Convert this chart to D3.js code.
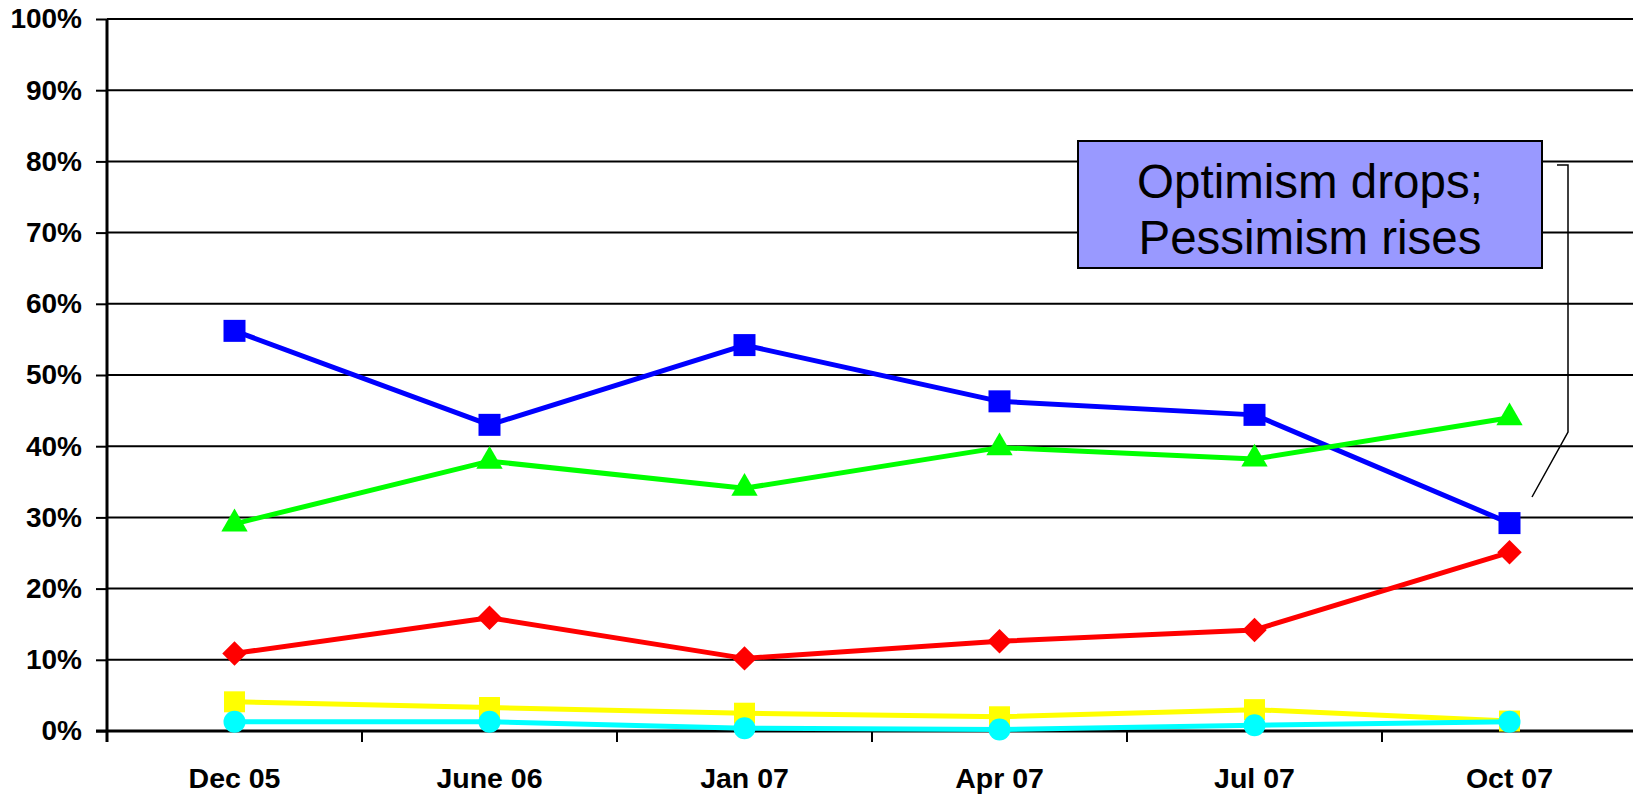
<!DOCTYPE html>
<html>
<head>
<meta charset="utf-8">
<script src="https://cdn.jsdelivr.net/npm/d3@7"></script>
<style>
  html, body { margin: 0; padding: 0; background: #fff; }
  svg { display: block; font-family: "Liberation Sans", Arial, sans-serif; }
</style>
</head>
<body>
<svg id="chart" width="1633" height="795"></svg>
<script>
// categories and series values (percent)
const categories = ["Dec 05", "June 06", "Jan 07", "Apr 07", "Jul 07", "Oct 07"];
const blueValues   = [56.2, 43.0, 54.2, 46.3, 44.4, 29.2];
const greenValues  = [29.1, 37.9, 34.1, 39.8, 38.2, 44.0];
const redValues    = [10.9, 15.9, 10.2, 12.6, 14.2, 25.1];
const yellowValues = [4.1, 3.3, 2.5, 2.0, 3.0, 1.4];
const cyanValues   = [1.3, 1.3, 0.4, 0.2, 0.8, 1.3];
const yTicks = [0, 10, 20, 30, 40, 50, 60, 70, 80, 90, 100];
const noteLines = ["Optimism drops;", "Pessimism rises"];

const config = {
  width: 1633, height: 795,
  margin: {top: 19, left: 107},
  band: 255
};

const svg = d3.select("#chart");

const x = d3.scaleBand()
  .domain(categories)
  .range([config.margin.left, config.margin.left + config.band * categories.length])
  .padding(0);
const y = d3.scaleLinear()
  .domain([0, 100])
  .range([731, config.margin.top]);
const cx = c => x(c) + x.bandwidth() / 2;

// y labels + outer ticks
const yAxis = svg.append("g")
  .attr("transform", `translate(${config.margin.left},0)`)
  .call(d3.axisLeft(y).tickValues(yTicks).tickSize(11).tickFormat(d => d + "%"));
yAxis.select(".domain").remove();
yAxis.selectAll(".tick line").attr("stroke", "#000").attr("stroke-width", 2);
yAxis.selectAll(".tick text")
  .attr("x", -25)
  .attr("font-size", 28).attr("font-weight", "bold")
  .attr("font-family", "Liberation Sans, Arial, sans-serif")
  .attr("fill", "#000");

// gridlines
svg.append("g").selectAll("line")
  .data(yTicks.filter(d => d > 0))
  .join("line")
  .attr("x1", config.margin.left).attr("x2", config.width)
  .attr("y1", d => y(d)).attr("y2", d => y(d))
  .attr("stroke", "#000").attr("stroke-width", 2);

// x axis with category labels
const xAxis = svg.append("g")
  .attr("transform", `translate(0,${y(0)})`)
  .call(d3.axisBottom(x).tickSize(0).tickPadding(37));
xAxis.select(".domain").remove();
xAxis.selectAll(".tick text")
  .attr("font-size", 28.5).attr("font-weight", "bold")
  .attr("font-family", "Liberation Sans, Arial, sans-serif")
  .attr("fill", "#000");

// tick marks between categories
svg.append("g").selectAll("line")
  .data(categories)
  .join("line")
  .attr("x1", d => x(d)).attr("x2", d => x(d))
  .attr("y1", y(0)).attr("y2", y(0) + 11)
  .attr("stroke", "#000").attr("stroke-width", 2);

svg.append("line")
  .attr("x1", config.margin.left - 11).attr("x2", config.width)
  .attr("y1", y(0)).attr("y2", y(0))
  .attr("stroke", "#000").attr("stroke-width", 3);
svg.append("line")
  .attr("x1", config.margin.left).attr("x2", config.margin.left)
  .attr("y1", y(100)).attr("y2", y(0) + 11)
  .attr("stroke", "#000").attr("stroke-width", 3);

// series
const series = [
  {values: blueValues,   color: "#0000ff", symbol: d3.symbolSquare,   size: 484, rotate: 0},
  {values: greenValues,  color: "#00ff00", symbol: d3.symbolTriangle, size: 300, rotate: 0},
  {values: redValues,    color: "#ff0000", symbol: d3.symbolSquare,   size: 300, rotate: 45},
  {values: yellowValues, color: "#ffff00", symbol: d3.symbolSquare,   size: 440, rotate: 0},
  {values: cyanValues,   color: "#00ffff", symbol: d3.symbolCircle,   size: 380, rotate: 0}
];

const line = d3.line()
  .x((d, i) => cx(categories[i]))
  .y(d => y(d));

series.forEach(s => {
  const g = svg.append("g");
  g.append("path")
    .datum(s.values)
    .attr("d", line)
    .attr("fill", "none")
    .attr("stroke", s.color)
    .attr("stroke-width", 5)
    .attr("stroke-linejoin", "round");
  g.selectAll("path.mark")
    .data(s.values)
    .join("path")
    .attr("class", "mark")
    .attr("d", d3.symbol().type(s.symbol).size(s.size))
    .attr("transform", (d, i) => `translate(${cx(categories[i])},${y(d)}) rotate(${s.rotate})`)
    .attr("fill", s.color);
});

// annotation box
const note = svg.append("g");
note.append("rect")
  .attr("x", 1078).attr("y", 141)
  .attr("width", 464).attr("height", 127)
  .attr("fill", "#9999ff").attr("stroke", "#000").attr("stroke-width", 2);
note.selectAll("text")
  .data(noteLines)
  .join("text")
  .attr("x", 1310)
  .attr("y", (d, i) => 198 + i * 56)
  .attr("text-anchor", "middle")
  .attr("font-size", 47.5)
  .attr("fill", "#000")
  .text(d => d);

// bracket callout pointing at the Oct 07 values
svg.append("path")
  .attr("d", `M1557,165 L1568,165 L1568,432 L1532,497`)
  .attr("fill", "none")
  .attr("stroke", "#000")
  .attr("stroke-width", 1.5);
</script>
</body>
</html>
